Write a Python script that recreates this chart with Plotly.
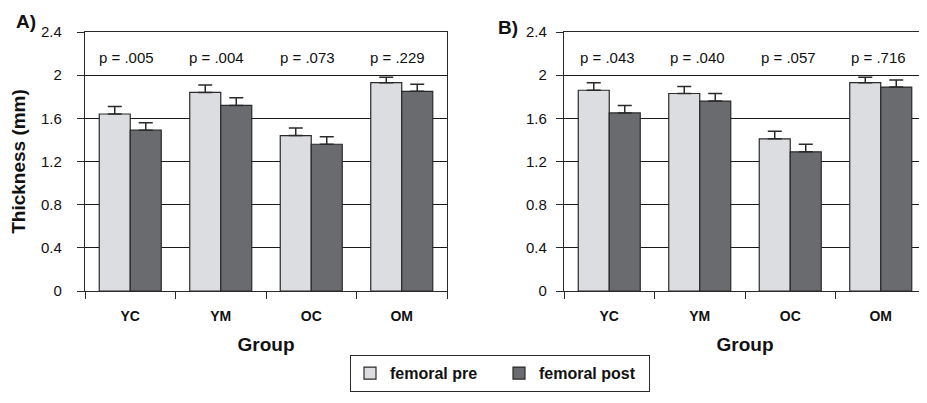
import plotly.graph_objects as go

groups = ["YC", "YM", "OC", "OM"]
series_names = ["femoral pre", "femoral post"]

a_pre = [1.64, 1.84, 1.44, 1.93]
a_pre_err = [0.07, 0.07, 0.07, 0.05]
a_post = [1.49, 1.72, 1.36, 1.85]
a_post_err = [0.07, 0.07, 0.07, 0.065]

b_pre = [1.86, 1.83, 1.41, 1.93]
b_pre_err = [0.07, 0.065, 0.07, 0.05]
b_post = [1.65, 1.76, 1.29, 1.89]
b_post_err = [0.07, 0.07, 0.07, 0.065]

p_a = [".005", ".004", ".073", ".229"]
p_b = [".043", ".040", ".057", ".716"]

y_ticks = [0, 0.4, 0.8, 1.2, 1.6, 2.0, 2.4]
y_ticktext = ["0", "0.4", "0.8", "1.2", "1.6", "2", "2.4"]

PRE_COLOR = "#dcdde0"
POST_COLOR = "#6a6b6f"
LINE = "#2a2a2a"
FONT = "Liberation Sans, Arial, sans-serif"

# page has an 8px body margin; figure is sized so it fills the 927x403 window
OFF = 8
W, H = 927 - OFF, 403 - OFF
L, R, T, B = 85 - OFF, 1, 32 - OFF, 112
pw, ph = W - L - R, H - T - B


def px(page_x):
    return (page_x - 85) / pw


def py(page_y):
    return (291 - page_y) / ph


fig = go.Figure()


def add_bars(pre, pre_err, post, post_err, xa, ya, show):
    for vals, errs, name, col in [
        (pre, pre_err, series_names[0], PRE_COLOR),
        (post, post_err, series_names[1], POST_COLOR),
    ]:
        fig.add_trace(go.Bar(
            x=groups, y=vals, name=name, xaxis=xa, yaxis=ya,
            marker=dict(color=col, line=dict(color=LINE, width=1.2)),
            error_y=dict(type="data", array=errs, arrayminus=[0] * len(errs),
                         symmetric=False, color=LINE, thickness=1.5, width=7),
            showlegend=show, legendgroup=name,
        ))


add_bars(a_pre, a_pre_err, a_post, a_post_err, "x", "y", True)
add_bars(b_pre, b_pre_err, b_post, b_post_err, "x2", "y2", False)

annotations = []
for i, g in enumerate(groups):
    annotations.append(dict(x=g, y=2.16, xref="x", yref="y", text="p = " + p_a[i],
                            showarrow=False, xshift=-4,
                            font=dict(family=FONT, size=15, color="#111")))
    annotations.append(dict(x=g, y=2.16, xref="x2", yref="y2", text="p = " + p_b[i],
                            showarrow=False, xshift=-2,
                            font=dict(family=FONT, size=15, color="#111")))

annotations.append(dict(x=px(26), y=py(21), xref="paper", yref="paper",
                        text="<b>A)</b>", showarrow=False, xanchor="center", yanchor="middle",
                        font=dict(family=FONT, size=19, color="#111")))
annotations.append(dict(x=px(508), y=py(27), xref="paper", yref="paper",
                        text="<b>B)</b>", showarrow=False, xanchor="center", yanchor="middle",
                        font=dict(family=FONT, size=19, color="#111")))

xaxis_common = dict(
    showline=True, linecolor=LINE, linewidth=1.2, mirror=True,
    ticks="outside", tickson="boundaries", ticklen=7, tickcolor=LINE, tickwidth=1.2,
    ticklabelstandoff=12,
    tickfont=dict(family=FONT, size=14, color="#111", weight="bold"),
    showgrid=False, fixedrange=True, automargin=False,
    title=dict(text="Group", font=dict(family=FONT, size=19, color="#111", weight="bold"),
               standoff=14),
)
yaxis_common = dict(
    range=[0, 2.4], tickvals=y_ticks, ticktext=y_ticktext,
    showline=True, linecolor=LINE, linewidth=1.2, mirror=True,
    ticks="outside", ticklen=7, tickcolor=LINE, tickwidth=1.2,
    tickfont=dict(family=FONT, size=15, color="#111"),
    showgrid=True, gridcolor="#1a1a1a", gridwidth=1, zeroline=False, fixedrange=True,
    automargin=False,
)

fig.update_layout(
    width=W, height=H,
    margin=dict(l=L, r=R, t=T, b=B, autoexpand=False),
    paper_bgcolor="white", plot_bgcolor="white",
    barmode="group", bargap=0.315, bargroupgap=0,
    xaxis=dict(domain=[0, px(447)], anchor="y", **xaxis_common),
    xaxis2=dict(domain=[px(564), 1], anchor="y2", **xaxis_common),
    yaxis=dict(anchor="x", ticklabelstandoff=12,
               title=dict(text="Thickness (mm)",
                          font=dict(family=FONT, size=19, color="#111", weight="bold"),
                          standoff=11),
               **yaxis_common),
    yaxis2=dict(anchor="x2", ticklabelstandoff=6, **yaxis_common),
    annotations=annotations,
    legend=dict(
        orientation="h", x=px(350), y=py(355),
        xanchor="left", yanchor="top",
        bordercolor=LINE, borderwidth=1.2, bgcolor="white",
        font=dict(family=FONT, size=16, color="#111", weight="bold"),
        entrywidth=104, itemwidth=30,
    ),
    showlegend=True,
)

fig.write_html("out.html")
